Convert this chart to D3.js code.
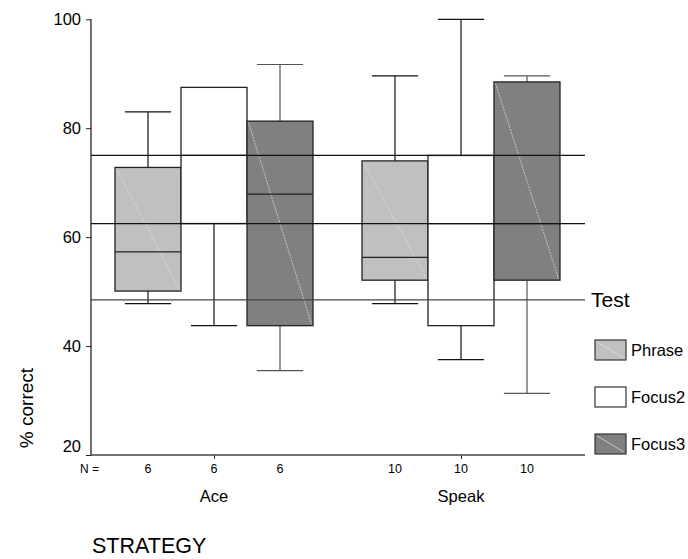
<!doctype html>
<html lang="en">
<head>
  <title>% correct by strategy</title>
  <script src="https://d3js.org/d3.v7.min.js"></script>
  <style>
    body { margin: 0px; background: #fff; }
    svg text { font-family: "Liberation Sans", Arial, sans-serif; fill: #000; }
  </style>
</head>
<body>
  <div id="container"></div>
  <script>
    // data
    var groups = ["Ace", "Speak"];
    var series = ["Phrase", "Focus2", "Focus3"];
    var counts = [6, 10];
    // [lower whisker, q1, median, q3, upper whisker] per group
    var phrase = [[47.8, 50.1, 57.3, 72.8, 83.0], [47.8, 52.1, 56.3, 74.0, 89.6]];
    var focus2 = [[43.75, 62.5, 75, 87.5, 87.5], [37.5, 43.75, 62.5, 75, 100]];
    var focus3 = [[35.5, 43.75, 67.9, 81.3, 91.7], [31.3, 52.1, 62.5, 88.5, 89.6]];
    var refLines = [75, 62.5, 48.5];
    var yTicks = [20, 40, 60, 80, 100];
    var fills = ["#c0c0c0", "#ffffff", "#808080"];

    var width = 688, height = 559;
    var svg = d3.select("#container").append("svg")
      .attr("width", width).attr("height", height);

    var plotLeft = 91, plotRight = 585, plotTop = 19.3, plotBottom = 455;

    var y = d3.scaleLinear().domain([20, 100]).range([plotBottom, plotTop]);
    var x = d3.scalePoint().domain(groups).range([214, 461]);
    var xs = d3.scaleBand().domain(series).range([-99, 99]);
    var bw = xs.bandwidth();

    var allData = [phrase, focus2, focus3];
    var boxes = [];
    groups.forEach(function(g, gi) {
      series.forEach(function(s, si) {
        var v = allData[si][gi];
        boxes.push({group: g, series: s, si: si, lo: v[0], q1: v[1], med: v[2], q3: v[3], hi: v[4]});
      });
    });

    // boxes
    var bx = svg.append("g").selectAll("g").data(boxes).enter().append("g")
      .attr("transform", function(d) { return "translate(" + (x(d.group) + xs(d.series)) + ",0)"; });

    var cx = bw / 2, capW = bw * 0.35;
    function wcol(d) { return d.si == 2 ? "#555" : "#111"; }
    // whiskers
    bx.append("line").attr("x1", cx).attr("x2", cx)
      .attr("y1", function(d) { return y(d.q3); }).attr("y2", function(d) { return y(d.hi); })
      .attr("stroke", wcol).attr("stroke-width", 1.2);
    bx.append("line").attr("x1", cx).attr("x2", cx)
      .attr("y1", function(d) { return y(d.q1); }).attr("y2", function(d) { return y(d.lo); })
      .attr("stroke", wcol).attr("stroke-width", 1.2);
    bx.filter(function(d) { return d.hi > d.q3; }).append("line")
      .attr("x1", cx - capW).attr("x2", cx + capW)
      .attr("y1", function(d) { return y(d.hi); }).attr("y2", function(d) { return y(d.hi); })
      .attr("stroke", wcol).attr("stroke-width", 1.2);
    bx.append("line")
      .attr("x1", cx - capW).attr("x2", cx + capW)
      .attr("y1", function(d) { return y(d.lo); }).attr("y2", function(d) { return y(d.lo); })
      .attr("stroke", wcol).attr("stroke-width", 1.2);

    bx.append("rect")
      .attr("x", 0).attr("width", bw)
      .attr("y", function(d) { return y(d.q3); })
      .attr("height", function(d) { return y(d.q1) - y(d.q3); })
      .attr("fill", function(d) { return fills[d.si]; })
      .attr("stroke", "#222").attr("stroke-width", 1.3);
    // faint diagonal in shaded boxes
    bx.filter(function(d) { return d.si != 1; }).append("line")
      .attr("x1", 1.5).attr("x2", bw - 1.5)
      .attr("y1", function(d) { return y(d.q3) + 1.5; }).attr("y2", function(d) { return y(d.q1) - 1.5; })
      .attr("stroke", "#e4e4e4").attr("stroke-width", 0.7).attr("stroke-dasharray", "2,1");
    bx.append("line").attr("x1", 0).attr("x2", bw)
      .attr("y1", function(d) { return y(d.med); }).attr("y2", function(d) { return y(d.med); })
      .attr("stroke", "#222").attr("stroke-width", 1.3);

    // reference lines
    svg.append("g").selectAll("line").data(refLines).enter().append("line")
      .attr("x1", plotLeft).attr("x2", plotRight)
      .attr("y1", function(d) { return y(d); }).attr("y2", function(d) { return y(d); })
      .attr("stroke", function(d, i) { return i == 2 ? "#444" : "#111"; }).attr("stroke-width", 1.2);
    svg.append("text").attr("x", plotRight + 6).attr("y", y(refLines[2]))
      .attr("dy", "0.35em").style("font-size", "21px").text("Test");

    // axes
    var yAxis = d3.axisLeft(y).tickValues(yTicks).tickSize(5).tickPadding(5).tickFormat(d3.format("d"));
    var ga = svg.append("g").attr("transform", "translate(" + plotLeft + ",0)").call(yAxis);
    ga.select(".domain").remove();
    ga.selectAll("text").style("font-size", "16.5px").style("font-family", "Liberation Sans, Arial, sans-serif")
      .attr("dy", function(d) { return d == 20 ? "-0.2em" : "0.32em"; });
    ga.selectAll("line").attr("stroke", "#222");
    svg.append("line").attr("x1", plotLeft).attr("x2", plotLeft).attr("y1", plotTop).attr("y2", plotBottom + 0.5)
      .attr("stroke", "#111").attr("stroke-width", 1.2);

    var xAxis = d3.axisBottom(x).tickSize(4).tickFormat("");
    var gx = svg.append("g").attr("transform", "translate(0," + plotBottom + ")").call(xAxis);
    gx.select(".domain").remove();
    gx.selectAll("line").attr("stroke", "#333");
    svg.append("line").attr("x1", plotLeft).attr("x2", plotRight).attr("y1", plotBottom).attr("y2", plotBottom)
      .attr("stroke", "#444").attr("stroke-width", 1.3);

    // N row
    svg.append("text").attr("x", 80).attr("y", 473).style("font-size", "12px").text("N =");
    svg.append("g").selectAll("text").data(boxes).enter().append("text")
      .attr("x", function(d) { return x(d.group) + xs(d.series) + bw / 2; })
      .attr("y", 473).attr("text-anchor", "middle").style("font-size", "12.5px")
      .text(function(d) { return counts[groups.indexOf(d.group)]; });

    // group labels
    svg.append("g").selectAll("text").data(groups).enter().append("text")
      .attr("x", function(d) { return x(d); }).attr("y", 502)
      .attr("text-anchor", "middle").style("font-size", "16.5px").text(function(d) { return d; });

    svg.append("text").attr("x", 92).attr("y", 553).style("font-size", "21.5px").text("STRATEGY");
    svg.append("text").attr("transform", "translate(33,408) rotate(-90)")
      .attr("text-anchor", "middle").style("font-size", "19px").text("% correct");

    // legend
    var lg = svg.append("g").selectAll("g").data(series).enter().append("g")
      .attr("transform", function(d, i) { return "translate(595," + (340 + i * 47) + ")"; });
    lg.append("rect").attr("width", 31).attr("height", 20)
      .attr("fill", function(d, i) { return fills[i]; }).attr("stroke", "#333").attr("stroke-width", 1.2);
    lg.filter(function(d, i) { return i != 1; }).append("line")
      .attr("x1", 2).attr("y1", 2).attr("x2", 29).attr("y2", 18)
      .attr("stroke", "#e4e4e4").attr("stroke-width", 0.7);
    lg.append("text").attr("x", 36).attr("y", 10).attr("dy", "0.35em")
      .style("font-size", "16.5px").text(function(d) { return d; });
  </script>
</body>
</html>
